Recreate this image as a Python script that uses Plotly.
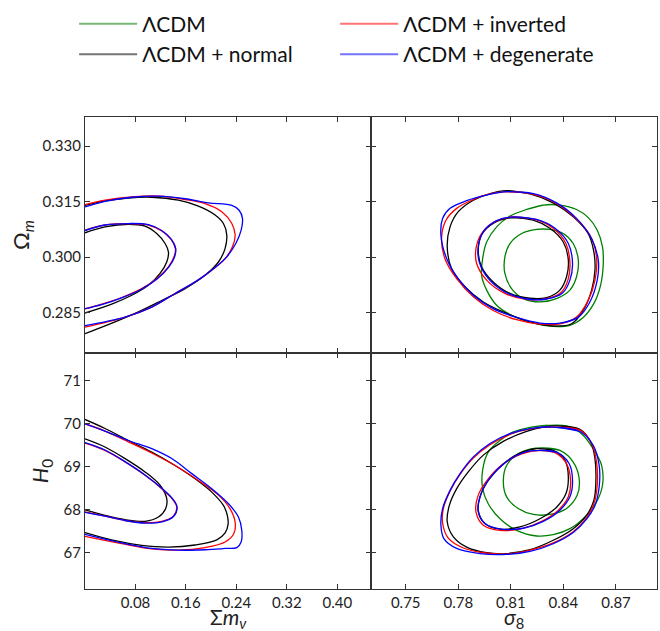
import plotly.graph_objects as go

# ---------------- axis ticks ----------------
MNU_TICKS = [0.08, 0.16, 0.24, 0.32, 0.40]
MNU_TICK_LABELS = ["0.08", "0.16", "0.24", "0.32", "0.40"]
S8_TICKS = [0.75, 0.78, 0.81, 0.84, 0.87]
S8_TICK_LABELS = ["0.75", "0.78", "0.81", "0.84", "0.87"]
OM_TICKS = [0.285, 0.300, 0.315, 0.330]
OM_TICK_LABELS = ["0.285", "0.300", "0.315", "0.330"]
H0_TICKS = [67, 68, 69, 70, 71]
H0_TICK_LABELS = ["67", "68", "69", "70", "71"]

MNU_RANGE = [0.0, 0.4535]
S8_RANGE = [0.7302, 0.8934]
OM_RANGE = [0.2741, 0.3379]
H0_RANGE = [66.147, 71.635]

SERIES_NAMES = ["ΛCDM", "ΛCDM + normal", "ΛCDM + inverted", "ΛCDM + degenerate"]
SERIES_COLORS = ["#008000", "#000000", "#ff0000", "#0000ff"]
LEGEND_COLORS = ["rgba(0,128,0,0.55)", "rgba(0,0,0,0.55)", "rgba(255,0,0,0.55)", "rgba(0,0,255,0.55)"]

# ---------------- contours: (Σmν, Ωm) ----------------
normal_mnu_om_68 = [(0, 0.3066), (0.0317, 0.3082), (0.0688, 0.3089), (0.0952, 0.3084), (0.1137, 0.3064),
                    (0.1270, 0.3037), (0.1323, 0.3014), (0.1296, 0.2987), (0.1190, 0.2956), (0.1005, 0.2924),
                    (0.0741, 0.2897), (0.0423, 0.2873), (0, 0.2849)]
normal_mnu_om_95 = [(0, 0.3140), (0.0317, 0.3152), (0.0688, 0.3160), (0.1058, 0.3162), (0.1481, 0.3154),
                    (0.1799, 0.3138), (0.2063, 0.3114), (0.2195, 0.3091), (0.2248, 0.3060), (0.2222, 0.3024),
                    (0.2116, 0.2987), (0.1904, 0.2951), (0.1587, 0.2915), (0.1217, 0.2883), (0.0846, 0.2852),
                    (0.0476, 0.2825), (0, 0.2793)]
inverted_mnu_om_68 = [(0, 0.3073), (0.0317, 0.3087), (0.0688, 0.3091), (0.1005, 0.3087), (0.1217, 0.3071),
                      (0.1365, 0.3048), (0.1434, 0.3023), (0.1412, 0.3001), (0.1323, 0.2974), (0.1137, 0.2942),
                      (0.0899, 0.2915), (0.0582, 0.2891), (0.0265, 0.2873), (0, 0.2860)]
inverted_mnu_om_95 = [(0, 0.3142), (0.0317, 0.3154), (0.0741, 0.3163), (0.1164, 0.3165), (0.1587, 0.3156),
                      (0.1904, 0.3145), (0.2169, 0.3123), (0.2328, 0.3091), (0.2381, 0.3060), (0.2338, 0.3028),
                      (0.2222, 0.2996), (0.2010, 0.2965), (0.1746, 0.2933), (0.1428, 0.2902), (0.1058, 0.2865),
                      (0.0635, 0.2838), (0, 0.2811)]
degenerate_mnu_om_68 = [(0, 0.3072), (0.0317, 0.3087), (0.0688, 0.3091), (0.1005, 0.3088), (0.1217, 0.3072),
                        (0.1370, 0.3048), (0.1439, 0.3023), (0.1418, 0.3000), (0.1328, 0.2973), (0.1143, 0.2941),
                        (0.0899, 0.2914), (0.0582, 0.2890), (0.0265, 0.2872), (0, 0.2861)]
degenerate_mnu_om_95 = [(0, 0.3136), (0.0317, 0.3151), (0.0741, 0.3162), (0.1164, 0.3165), (0.1587, 0.3158),
                        (0.1957, 0.3147), (0.2328, 0.3140), (0.2444, 0.3127), (0.2497, 0.3105), (0.2476, 0.3073),
                        (0.2391, 0.3037), (0.2248, 0.3001), (0.2063, 0.2972), (0.1772, 0.2936), (0.1428, 0.2902),
                        (0.1058, 0.2865), (0.0635, 0.2838), (0, 0.2815)]

# ---------------- contours: (σ8, Ωm) ----------------
lcdm_s8_om_68 = [(0.8323, 0.3075), (0.8399, 0.3064), (0.8456, 0.3037), (0.8485, 0.2992), (0.8475, 0.2947),
                 (0.8437, 0.2911), (0.8361, 0.2888), (0.8266, 0.2879), (0.8171, 0.2888), (0.8104, 0.2915),
                 (0.8066, 0.2956), (0.8066, 0.3001), (0.8095, 0.3037), (0.8162, 0.3064), (0.8247, 0.3075)]
lcdm_s8_om_95 = [(0.8190, 0.3129), (0.8285, 0.3141), (0.8380, 0.3141), (0.8475, 0.3129), (0.8542, 0.3107),
                 (0.8593, 0.3073), (0.8623, 0.3028), (0.8627, 0.2979), (0.8612, 0.2924), (0.8574, 0.2875),
                 (0.8513, 0.2837), (0.8437, 0.2816), (0.8342, 0.2813), (0.8228, 0.2822), (0.8104, 0.2843),
                 (0.8019, 0.2870), (0.7962, 0.2911), (0.7933, 0.2951), (0.7939, 0.2996), (0.7962, 0.3041),
                 (0.8019, 0.3082), (0.8095, 0.3111)]
normal_s8_om_68 = [(0.8114, 0.3107), (0.8228, 0.3100), (0.8323, 0.3078), (0.8399, 0.3041), (0.8428, 0.2992),
                   (0.8418, 0.2947), (0.8380, 0.2911), (0.8304, 0.2891), (0.8209, 0.2889), (0.8095, 0.2902),
                   (0.7999, 0.2933), (0.7933, 0.2974), (0.7914, 0.3019), (0.7933, 0.3060), (0.7999, 0.3091)]
normal_s8_om_95 = [(0.8076, 0.3180), (0.8209, 0.3171), (0.8342, 0.3147), (0.8456, 0.3109), (0.8541, 0.3064),
                   (0.8574, 0.3014), (0.8580, 0.2965), (0.8561, 0.2911), (0.8513, 0.2856), (0.8447, 0.2820),
                   (0.8342, 0.2814), (0.8209, 0.2825), (0.8076, 0.2848), (0.7943, 0.2879), (0.7838, 0.2920),
                   (0.7762, 0.2969), (0.7737, 0.3028), (0.7753, 0.3082), (0.7800, 0.3123), (0.7886, 0.3154),
                   (0.7981, 0.3172)]
inverted_s8_om_68 = [(0.8114, 0.3109), (0.8238, 0.3102), (0.8342, 0.3078), (0.8414, 0.3037), (0.8437, 0.2987),
                     (0.8428, 0.2942), (0.8390, 0.2906), (0.8304, 0.2888), (0.8190, 0.2886), (0.8066, 0.2902),
                     (0.7962, 0.2938), (0.7905, 0.2983), (0.7901, 0.3023), (0.7933, 0.3064), (0.8009, 0.3096)]
inverted_s8_om_95 = [(0.8076, 0.3177), (0.8209, 0.3172), (0.8342, 0.3150), (0.8456, 0.3111), (0.8551, 0.3060),
                     (0.8589, 0.3001), (0.8580, 0.2938), (0.8542, 0.2884), (0.8475, 0.2838), (0.8380, 0.2820),
                     (0.8266, 0.2819), (0.8133, 0.2831), (0.7999, 0.2856), (0.7886, 0.2893), (0.7791, 0.2942),
                     (0.7724, 0.2996), (0.7705, 0.3055), (0.7730, 0.3100), (0.7791, 0.3132), (0.7886, 0.3156),
                     (0.7981, 0.3171)]
degenerate_s8_om_68 = [(0.8114, 0.3109), (0.8247, 0.3102), (0.8352, 0.3078), (0.8428, 0.3037), (0.8452, 0.2983),
                       (0.8437, 0.2938), (0.8395, 0.2903), (0.8304, 0.2887), (0.8190, 0.2887), (0.8066, 0.2906),
                       (0.7972, 0.2942), (0.7920, 0.2987), (0.7914, 0.3028), (0.7943, 0.3069), (0.8019, 0.3099)]
degenerate_s8_om_95 = [(0.8076, 0.3177), (0.8228, 0.3172), (0.8361, 0.3147), (0.8475, 0.3105), (0.8561, 0.3050),
                       (0.8599, 0.2992), (0.8593, 0.2938), (0.8551, 0.2879), (0.8485, 0.2838), (0.8380, 0.2822),
                       (0.8266, 0.2822), (0.8133, 0.2837), (0.7999, 0.2861), (0.7886, 0.2897), (0.7800, 0.2942),
                       (0.7734, 0.2996), (0.7701, 0.3060), (0.7711, 0.3105), (0.7753, 0.3132), (0.7848, 0.3153),
                       (0.7962, 0.3168)]

# ---------------- contours: (Σmν, H0) ----------------
normal_mnu_h0_68 = [(0, 69.64), (0.0317, 69.45), (0.0635, 69.18), (0.0952, 68.87), (0.1190, 68.56),
                    (0.1296, 68.25), (0.1280, 68.02), (0.1164, 67.82), (0.0952, 67.72), (0.0635, 67.76),
                    (0.0317, 67.86), (0, 67.99)]
normal_mnu_h0_95 = [(0, 70.09), (0.0317, 69.88), (0.0688, 69.60), (0.1058, 69.33), (0.1428, 69.02),
                    (0.1746, 68.71), (0.2010, 68.40), (0.2195, 68.09), (0.2258, 67.85), (0.2269, 67.65),
                    (0.2222, 67.45), (0.2090, 67.29), (0.1746, 67.17), (0.1323, 67.12), (0.0899, 67.16),
                    (0.0476, 67.27), (0, 67.46)]
inverted_mnu_h0_68 = [(0, 69.54), (0.0317, 69.37), (0.0635, 69.10), (0.0952, 68.79), (0.1217, 68.48),
                      (0.1402, 68.21), (0.1455, 68.05), (0.1402, 67.84), (0.1217, 67.72), (0.0952, 67.69),
                      (0.0635, 67.74), (0.0317, 67.84), (0, 67.94)]
inverted_mnu_h0_95 = [(0, 69.99), (0.0317, 69.82), (0.0688, 69.57), (0.1058, 69.31), (0.1428, 69.02),
                      (0.1799, 68.67), (0.2116, 68.33), (0.2301, 68.01), (0.2381, 67.70), (0.2359, 67.43),
                      (0.2222, 67.24), (0.1904, 67.11), (0.1481, 67.05), (0.1058, 67.08), (0.0582, 67.20),
                      (0, 67.37)]
degenerate_mnu_h0_68 = [(0, 69.55), (0.0317, 69.38), (0.0635, 69.11), (0.0952, 68.80), (0.1217, 68.49),
                        (0.1402, 68.22), (0.1460, 68.05), (0.1407, 67.84), (0.1222, 67.71), (0.0952, 67.68),
                        (0.0635, 67.74), (0.0317, 67.84), (0, 67.93)]
degenerate_mnu_h0_95 = [(0, 69.99), (0.0317, 69.82), (0.0688, 69.60), (0.1058, 69.41), (0.1375, 69.18),
                        (0.1693, 68.83), (0.2010, 68.48), (0.2275, 68.13), (0.2433, 67.82), (0.2486, 67.51),
                        (0.2476, 67.24), (0.2407, 67.11), (0.2222, 67.09), (0.1904, 67.06), (0.1481, 67.05),
                        (0.1058, 67.09), (0.0582, 67.22), (0, 67.42)]

# ---------------- contours: (σ8, H0) ----------------
lcdm_s8_h0_68 = [(0.8285, 69.43), (0.8380, 69.37), (0.8456, 69.10), (0.8490, 68.71), (0.8479, 68.33),
                 (0.8418, 68.02), (0.8323, 67.88), (0.8228, 67.88), (0.8142, 68.02), (0.8076, 68.29),
                 (0.8057, 68.67), (0.8076, 69.02), (0.8133, 69.27), (0.8209, 69.40)]
lcdm_s8_h0_95 = [(0.8190, 69.89), (0.8304, 69.95), (0.8418, 69.94), (0.8503, 69.76), (0.8570, 69.41),
                 (0.8618, 69.02), (0.8623, 68.56), (0.8589, 68.17), (0.8532, 67.86), (0.8437, 67.55),
                 (0.8342, 67.41), (0.8247, 67.38), (0.8133, 67.51), (0.8038, 67.78), (0.7971, 68.13),
                 (0.7939, 68.48), (0.7939, 68.91), (0.7971, 69.33), (0.8038, 69.60), (0.8114, 69.80)]
normal_s8_h0_68 = [(0.8247, 69.41), (0.8342, 69.37), (0.8409, 69.14), (0.8428, 68.75), (0.8414, 68.36),
                   (0.8361, 68.05), (0.8266, 67.78), (0.8152, 67.59), (0.8038, 67.54), (0.7952, 67.67),
                   (0.7914, 67.94), (0.7924, 68.29), (0.7971, 68.67), (0.8047, 69.02), (0.8142, 69.29)]
normal_s8_h0_95 = [(0.8361, 69.94), (0.8494, 69.86), (0.8555, 69.57), (0.8580, 69.18), (0.8585, 68.64),
                   (0.8574, 68.21), (0.8532, 67.86), (0.8456, 67.55), (0.8342, 67.28), (0.8209, 67.06),
                   (0.8076, 66.97), (0.7962, 66.99), (0.7848, 67.12), (0.7772, 67.36), (0.7737, 67.71),
                   (0.7749, 68.09), (0.7791, 68.48), (0.7857, 68.87), (0.7943, 69.26), (0.8057, 69.58),
                   (0.8190, 69.81), (0.8285, 69.91)]
inverted_s8_h0_68 = [(0.8266, 69.37), (0.8352, 69.32), (0.8418, 69.06), (0.8441, 68.67), (0.8428, 68.29),
                     (0.8371, 67.98), (0.8276, 67.72), (0.8162, 67.55), (0.8038, 67.51), (0.7943, 67.63),
                     (0.7901, 67.94), (0.7914, 68.33), (0.7971, 68.71), (0.8057, 69.06), (0.8162, 69.29)]
inverted_s8_h0_95 = [(0.8342, 69.91), (0.8494, 69.84), (0.8561, 69.53), (0.8589, 69.10), (0.8593, 68.56),
                     (0.8574, 68.13), (0.8532, 67.80), (0.8456, 67.48), (0.8342, 67.22), (0.8209, 67.05),
                     (0.8076, 66.96), (0.7943, 66.99), (0.7829, 67.10), (0.7743, 67.33), (0.7711, 67.67),
                     (0.7715, 68.02), (0.7753, 68.42), (0.7810, 68.81), (0.7886, 69.19), (0.7981, 69.50),
                     (0.8095, 69.74), (0.8228, 69.88)]
degenerate_s8_h0_68 = [(0.8266, 69.37), (0.8361, 69.33), (0.8433, 69.06), (0.8452, 68.67), (0.8437, 68.29),
                       (0.8380, 67.98), (0.8285, 67.72), (0.8171, 67.56), (0.8047, 67.54), (0.7952, 67.67),
                       (0.7914, 67.98), (0.7928, 68.34), (0.7981, 68.73), (0.8066, 69.08), (0.8171, 69.32)]
degenerate_s8_h0_95 = [(0.8342, 69.91), (0.8494, 69.81), (0.8570, 69.49), (0.8604, 69.02), (0.8604, 68.52),
                       (0.8580, 68.09), (0.8532, 67.77), (0.8456, 67.46), (0.8342, 67.20), (0.8209, 67.02),
                       (0.8076, 66.95), (0.7924, 66.97), (0.7791, 67.09), (0.7718, 67.32), (0.7701, 67.63),
                       (0.7711, 68.02), (0.7753, 68.44), (0.7810, 68.83), (0.7886, 69.22), (0.7981, 69.53),
                       (0.8095, 69.76), (0.8228, 69.89)]

# panel -> list of (series index, contour, closed?)
PANELS = {
    ("x3", "y3"): [(1, normal_mnu_om_68, False), (1, normal_mnu_om_95, False),
                   (2, inverted_mnu_om_68, False), (2, inverted_mnu_om_95, False),
                   (3, degenerate_mnu_om_68, False), (3, degenerate_mnu_om_95, False)],
    ("x4", "y4"): [(0, lcdm_s8_om_68, True), (0, lcdm_s8_om_95, True),
                   (1, normal_s8_om_68, True), (1, normal_s8_om_95, True),
                   (2, inverted_s8_om_68, True), (2, inverted_s8_om_95, True),
                   (3, degenerate_s8_om_68, True), (3, degenerate_s8_om_95, True)],
    ("x", "y"): [(1, normal_mnu_h0_68, False), (1, normal_mnu_h0_95, False),
                 (2, inverted_mnu_h0_68, False), (2, inverted_mnu_h0_95, False),
                 (3, degenerate_mnu_h0_68, False), (3, degenerate_mnu_h0_95, False)],
    ("x2", "y2"): [(0, lcdm_s8_h0_68, True), (0, lcdm_s8_h0_95, True),
                   (1, normal_s8_h0_68, True), (1, normal_s8_h0_95, True),
                   (2, inverted_s8_h0_68, True), (2, inverted_s8_h0_95, True),
                   (3, degenerate_s8_h0_68, True), (3, degenerate_s8_h0_95, True)],
}

X_TITLES = ["Σ<i>m</i><sub><i>ν</i></sub>", "<i>σ</i><sub>8</sub>"]

FONT = "Lato, 'DejaVu Sans', sans-serif"
AX_COLOR = "#333333"

fig = go.Figure()

# legend entries (row-major order: ΛCDM, inverted / normal, degenerate)
for rank, idx in enumerate([0, 2, 1, 3]):
    fig.add_trace(go.Scatter(x=[None], y=[None], mode="lines", name=SERIES_NAMES[idx],
                             line=dict(color=LEGEND_COLORS[idx], width=2),
                             legendrank=rank + 1, showlegend=True, hoverinfo="skip"))

for (xa, ya), contours in PANELS.items():
    for sidx, pts, closed in contours:
        xs = [p[0] for p in pts]
        ys = [p[1] for p in pts]
        if closed:
            xs = xs + xs[:2]
            ys = ys + ys[:2]
        fig.add_trace(go.Scatter(x=xs, y=ys, mode="lines", xaxis=xa, yaxis=ya,
                                 line=dict(color=SERIES_COLORS[sidx], width=1.3, shape="spline", smoothing=1.0),
                                 showlegend=False, hoverinfo="skip"))


def ax(domain, rng, ticks, labels, show_labels, anchor, title=None, standoff=4):
    d = dict(domain=domain, range=rng, tickvals=ticks, ticktext=labels, showticklabels=show_labels,
             anchor=anchor, ticks="inside", ticklen=5, tickwidth=1.2, tickcolor=AX_COLOR,
             showline=True, linecolor=AX_COLOR, linewidth=1.3, mirror="ticks",
             showgrid=False, zeroline=False, automargin=False,
             tickfont=dict(family=FONT, size=15, color="#222"))
    if title:
        d["title"] = dict(text=title, font=dict(family=FONT, size=22, color="#222"), standoff=standoff)
    return d


# x-axis titles placed under each bottom panel
annotations = [
    dict(text=X_TITLES[0], x=0.25, y=-0.062, xref="paper", yref="paper", xanchor="center", yanchor="middle",
         showarrow=False, font=dict(family=FONT, size=21, color="#222")),
    dict(text=X_TITLES[1], x=0.75, y=-0.062, xref="paper", yref="paper", xanchor="center", yanchor="middle",
         showarrow=False, font=dict(family=FONT, size=21, color="#222")),
]

fig.update_layout(
    width=660, height=631,
    margin=dict(l=85, r=3, t=117, b=42),
    paper_bgcolor="white", plot_bgcolor="white",
    xaxis=ax([0, 0.5], MNU_RANGE, MNU_TICKS, MNU_TICK_LABELS, True, "y"),
    yaxis=ax([0, 0.5], H0_RANGE, H0_TICKS, H0_TICK_LABELS, True, "x", "<i>H</i><sub>0</sub>", 8),
    xaxis2=ax([0.5, 1], S8_RANGE, S8_TICKS, S8_TICK_LABELS, True, "y2"),
    yaxis2=ax([0, 0.5], H0_RANGE, H0_TICKS, H0_TICK_LABELS, False, "x2"),
    xaxis3=ax([0, 0.5], MNU_RANGE, MNU_TICKS, MNU_TICK_LABELS, False, "y3"),
    yaxis3=ax([0.5, 1], OM_RANGE, OM_TICKS, OM_TICK_LABELS, True, "x3", "Ω<sub><i>m</i></sub>", 6),
    xaxis4=ax([0.5, 1], S8_RANGE, S8_TICKS, S8_TICK_LABELS, False, "y4"),
    yaxis4=ax([0.5, 1], OM_RANGE, OM_TICKS, OM_TICK_LABELS, False, "x4"),
    annotations=annotations,
    legend=dict(orientation="h", x=-0.019, xanchor="left", y=1.24, yanchor="top",
                entrywidth=188, entrywidthmode="pixels", itemwidth=58,
                font=dict(family=FONT, size=21, color="#111"),
                bgcolor="rgba(0,0,0,0)", traceorder="normal"),
    showlegend=True,
)

fig.write_html("out.html")
